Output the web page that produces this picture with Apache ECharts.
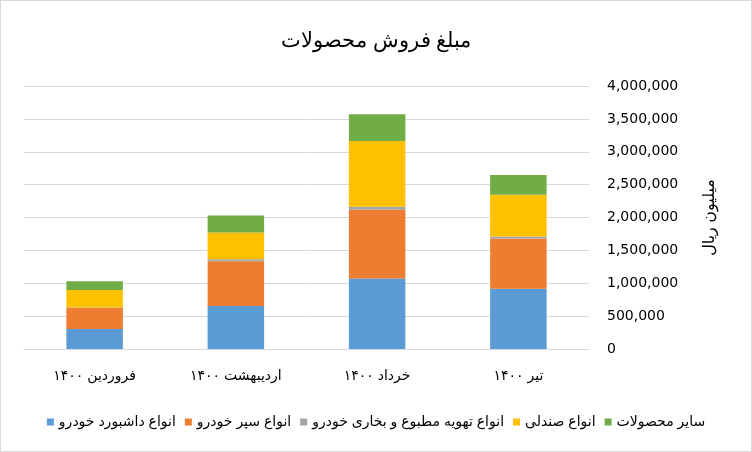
<!DOCTYPE html>
<html>
<head>
<meta charset="utf-8">
<script src="https://cdn.jsdelivr.net/npm/echarts@6/dist/echarts.min.js"></script>
<style>
html,body{margin:0;padding:0;background:#fff;}
#c{width:752px;height:452px;box-sizing:border-box;border:1px solid #d9d9d9;}
</style>
</head>
<body>
<div id="c"></div>
<script>
const categories = ['فروردین ۱۴۰۰', 'اردیبهشت ۱۴۰۰', 'خرداد ۱۴۰۰', 'تیر ۱۴۰۰'];
const seriesNames = ['انواع داشبورد خودرو', 'انواع سپر خودرو', 'انواع تهویه مطبوع و بخاری خودرو', 'انواع صندلی', 'سایر محصولات'];
const dashboard = [306000, 654000, 1072000, 915000];
const bumper = [318000, 680000, 1047000, 766000];
const hvac = [6000, 30000, 46000, 31000];
const seats = [266000, 408000, 997000, 634000];
const others = [136000, 257000, 408000, 302000];
const yMin = 0, yMax = 4000000, yStep = 500000;

const colors = ['#5b9bd5', '#ed7d31', '#a5a5a5', '#ffc000', '#70ad47'];
const values = [dashboard, bumper, hvac, seats, others];

const chart = echarts.init(document.getElementById('c'), null, {renderer: 'canvas'});
const font = 'Arial, "DejaVu Sans", sans-serif';
chart.setOption({
  animation: false,
  color: colors,
  title: {
    text: 'مبلغ فروش محصولات',
    left: 'center',
    top: 25,
    textStyle: {fontFamily: 'serif', fontSize: 21, fontWeight: 'normal', color: '#000'}
  },
  legend: {
    top: 409,
    left: 'center',
    itemWidth: 7,
    itemHeight: 7,
    itemGap: 9,
    icon: 'rect',
    textStyle: {fontFamily: font, fontSize: 14, color: '#000'},
    data: seriesNames
  },
  grid: {left: 23, right: 162, top: 85, bottom: 102},
  xAxis: {
    type: 'category',
    data: categories,
    axisLine: {lineStyle: {color: '#d9d9d9'}},
    axisTick: {show: false},
    axisLabel: {fontFamily: font, fontSize: 14, color: '#000', margin: 20}
  },
  yAxis: {
    type: 'value',
    position: 'right',
    min: yMin, max: yMax, interval: yStep,
    name: 'میلیون ریال',
    nameLocation: 'middle',
    nameGap: 113,
    nameRotate: 90,
    nameTextStyle: {fontFamily: font, fontSize: 16, color: '#000'},
    axisLine: {show: false},
    axisTick: {show: false},
    splitLine: {lineStyle: {color: '#d9d9d9'}},
    axisLabel: {
      fontFamily: '"DejaVu Sans", sans-serif', fontSize: 14, color: '#000', margin: 18,
      formatter: v => v.toLocaleString('en-US')
    }
  },
  series: seriesNames.map((n, i) => ({
    name: n,
    type: 'bar',
    stack: 'total',
    barWidth: '40%',
    data: values[i]
  }))
});
</script>
</body>
</html>
